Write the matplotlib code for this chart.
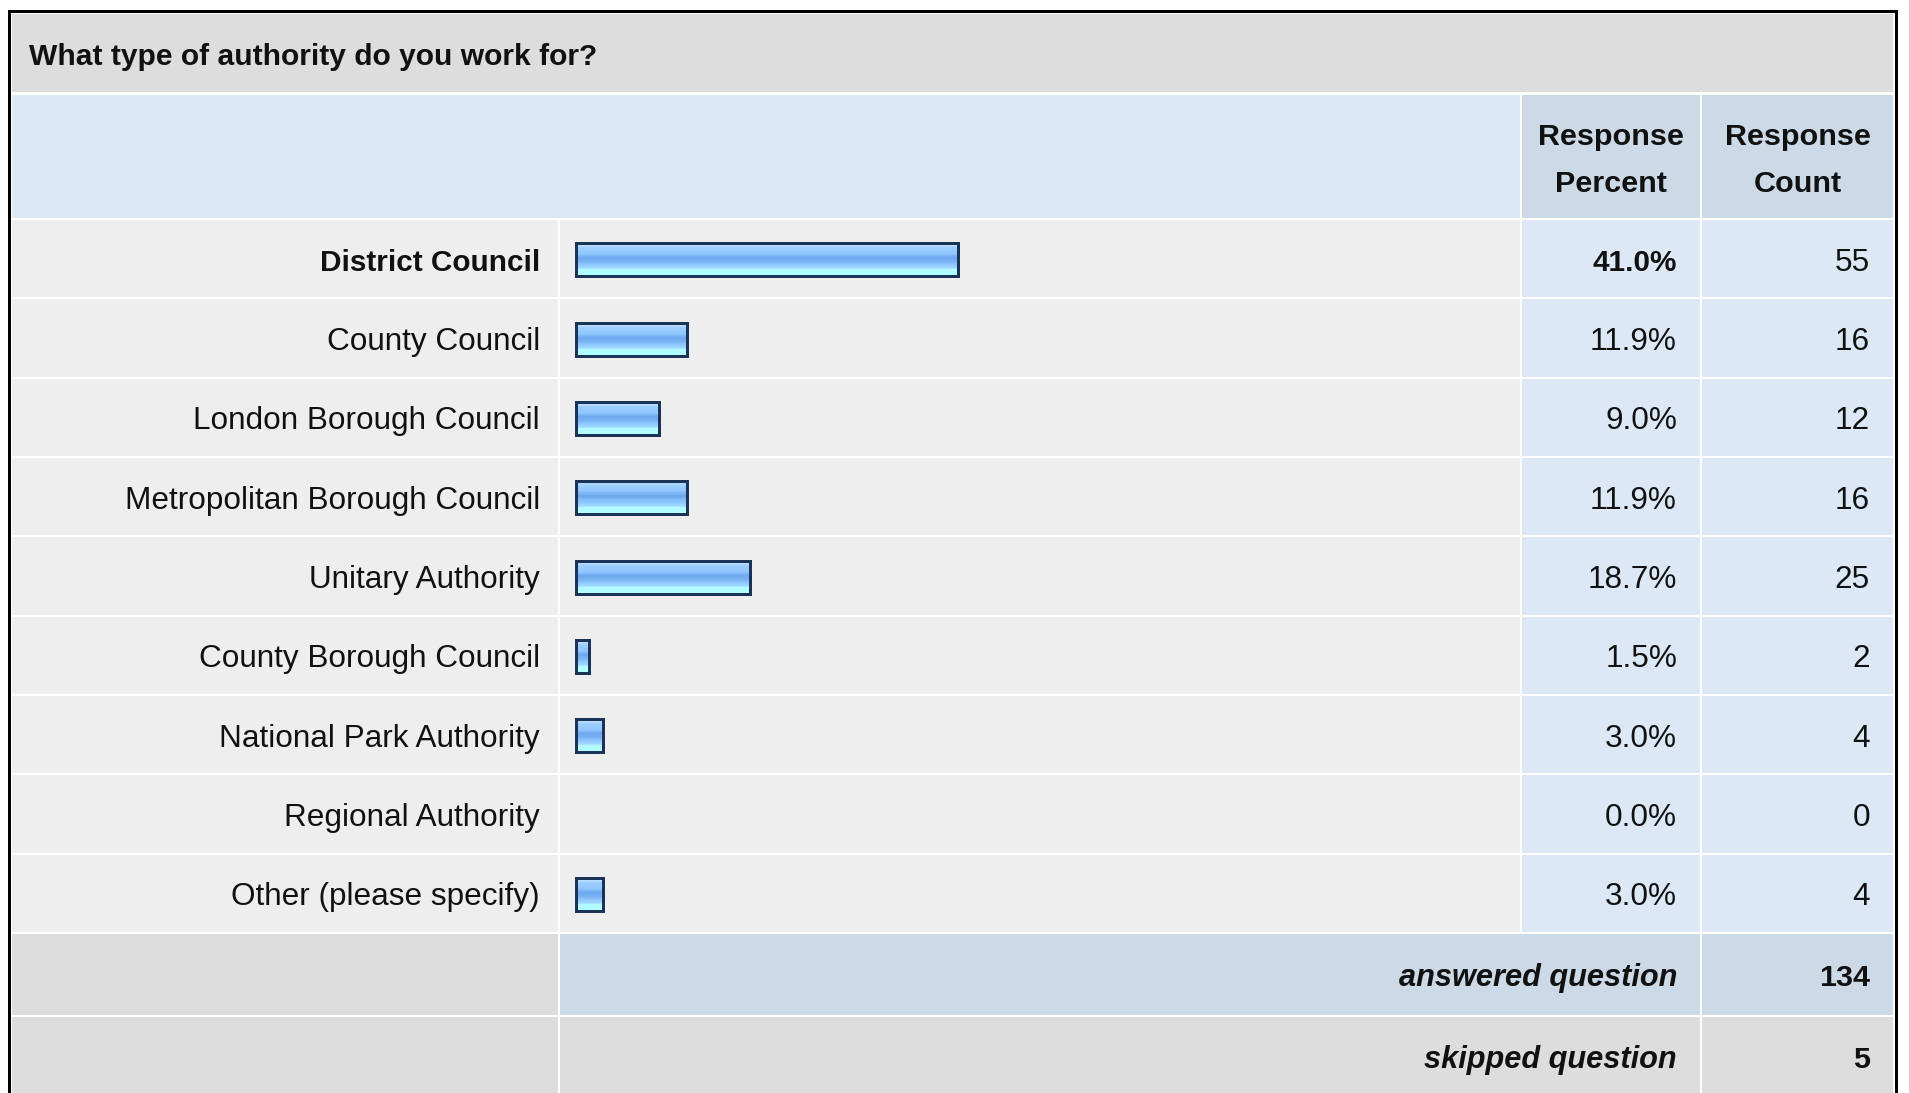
import matplotlib
matplotlib.use("Agg")
import matplotlib.pyplot as plt
from matplotlib.patches import Rectangle
from matplotlib.colors import LinearSegmentedColormap
import numpy as np

# ---------------- data ----------------
question = "What type of authority do you work for?"
categories = ["District Council", "County Council", "London Borough Council",
              "Metropolitan Borough Council", "Unitary Authority",
              "County Borough Council", "National Park Authority",
              "Regional Authority", "Other (please specify)"]
percents = [41.0, 11.9, 9.0, 11.9, 18.7, 1.5, 3.0, 0.0, 3.0]
counts = [55, 16, 12, 16, 25, 2, 4, 0, 4]
col_headers = ["Response\nPercent", "Response\nCount"]
footer_labels = ["answered question", "skipped question"]
footer_values = [134, 5]
highlight = 0  # index of the top answer, shown in bold

# ---------------- layout ----------------
W, H, DPI = 1909, 1093, 100
fig = plt.figure(figsize=(W / DPI, H / DPI), dpi=DPI)
fig.patch.set_facecolor("white")
ax = fig.add_axes([0, 0, 1, 1])
ax.set_xlim(0, W)
ax.set_ylim(H, 0)
ax.axis("off")

FONT = "Liberation Sans"
FS_B = 30.5 * 72 / DPI     # bold header / footer text
FS_BR = 29.7 * 72 / DPI    # bold text in the highlighted data row
FS_R = 31.5 * 72 / DPI     # regular text
FS_T = 30.0 * 72 / DPI     # title
TXT = "#111111"

GRAY_T = "#DDDDDD"
BLUE_L = "#DCE8F5"
BLUE_D = "#CCD9E6"
ROWC = "#EEEEEE"


def cell(x0, x1, y0, y1, c):
    ax.add_patch(Rectangle((x0, y0), x1 - x0, y1 - y0, facecolor=c,
                           edgecolor="none", zorder=1))


# outer border
ax.add_patch(Rectangle((8, 10), 1890, 1200, facecolor="black", edgecolor="none", zorder=0))
ax.add_patch(Rectangle((11, 13), 1884, 1200, facecolor="white", edgecolor="none", zorder=0))

XL, XR = 12, 1893
c_lab = (XL, 558)
c_bar = (560, 1520)
c_pct = (1522, 1700)
c_cnt = (1702, XR)
PCT_R, CNT_R = 1677, 1870

# title
cell(XL, XR, 14, 92, GRAY_T)
ax.text(29, 57, question, fontsize=FS_T, fontweight="bold", family=FONT,
        color=TXT, ha="left", va="center", zorder=3)

# header
HY0, HY1 = 95, 218
cell(XL, 1520, HY0, HY1, BLUE_L)
cell(*c_pct, HY0, HY1, BLUE_D)
cell(*c_cnt, HY0, HY1, BLUE_D)
for (x0, x1), hdr in zip([c_pct, c_cnt], col_headers):
    ax.text((x0 + x1) / 2, (HY0 + HY1) / 2 + 4, hdr, fontsize=FS_B,
            fontweight="bold", family=FONT, color=TXT, ha="center",
            va="center", linespacing=1.85, multialignment="center", zorder=3)

# data rows
ROW0, PITCH, GAP = 220, 79.35, 2
n = len(categories)
for i, (lab, p, c) in enumerate(zip(categories, percents, counts)):
    y0 = ROW0 + i * PITCH
    y1 = y0 + PITCH - GAP
    cell(*c_lab, y0, y1, ROWC)
    cell(*c_bar, y0, y1, ROWC)
    cell(*c_pct, y0, y1, BLUE_L)
    cell(*c_cnt, y0, y1, BLUE_L)
    yc = (y0 + y1) / 2 + 4
    bold = i == highlight
    fw = "bold" if bold else "normal"
    fs = FS_BR if bold else FS_R
    ax.text(540, yc, lab, fontsize=fs, fontweight=fw, family=FONT, color=TXT,
            ha="right", va="center", zorder=3)
    ax.text(PCT_R, yc, f"{p:.1f}%", fontsize=fs, fontweight=fw, family=FONT,
            color=TXT, ha="right", va="center", zorder=3)
    ax.text(CNT_R, yc, f"{c}", fontsize=FS_R, family=FONT, color=TXT,
            ha="right", va="center", zorder=3)

# footer rows
footer_rows = [(934, 1015, BLUE_D), (1017, 1100, GRAY_T)]
footer_text_y = [978, 1060]
for (y0, y1, mid), yc, flab, fval in zip(footer_rows, footer_text_y,
                                         footer_labels, footer_values):
    cell(*c_lab, y0, y1, GRAY_T)
    cell(560, 1700, y0, y1, mid)
    cell(*c_cnt, y0, y1, mid)
    ax.text(PCT_R, yc, flab, fontsize=FS_B * 1.01, fontweight="bold",
            style="italic", family=FONT, color=TXT, ha="right", va="center",
            zorder=3)
    ax.text(CNT_R, yc, f"{fval}", fontsize=FS_B, fontweight="bold",
            family=FONT, color=TXT, ha="right", va="center", zorder=3)

# ---------------- bars (own axes, data scale = percent) ----------------
bx0, bx1 = c_bar
by0, by1 = ROW0, ROW0 + n * PITCH
bax = fig.add_axes([bx0 / W, 1 - by1 / H, (bx1 - bx0) / W, (by1 - by0) / H])
bax.axis("off")
bax.patch.set_alpha(0)
scale = (958.0 - 575.5) / 41.0          # pixels per percent
xmin = -(575.5 - bx0) / scale
xmax = (bx1 - 575.5) / scale

grad = LinearSegmentedColormap.from_list("bar", [
    (0.00, "#D2E9FF"), (0.08, "#B4DAFF"), (0.16, "#9ACDFF"), (0.33, "#90C6FF"),
    (0.40, "#7AB2F3"), (0.47, "#6EA6EE"), (0.55, "#7AB4F4"), (0.66, "#90C8FF"),
    (0.78, "#A2D9FF"), (0.83, "#B2FCFF"), (1.00, "#B2FFFF")])
stripes = grad(np.linspace(0, 1, 30))[:, None, :]

bh = 33 / PITCH
ypos = np.arange(n) + 0.5
for y, p in zip(ypos, percents):
    if p <= 0:
        continue
    bax.imshow(stripes, extent=(0, p, y + bh / 2, y - bh / 2), aspect="auto",
               interpolation="nearest", zorder=2)
vals = np.array(percents)
bax.barh(ypos[vals > 0], vals[vals > 0], height=bh, left=0, fill=False,
         edgecolor="#1B3357", linewidth=3 * 72 / DPI, zorder=3)
bax.set_xlim(xmin, xmax)
bax.set_ylim(n, 0)

fig.savefig("out.png", dpi=DPI, facecolor="white")
